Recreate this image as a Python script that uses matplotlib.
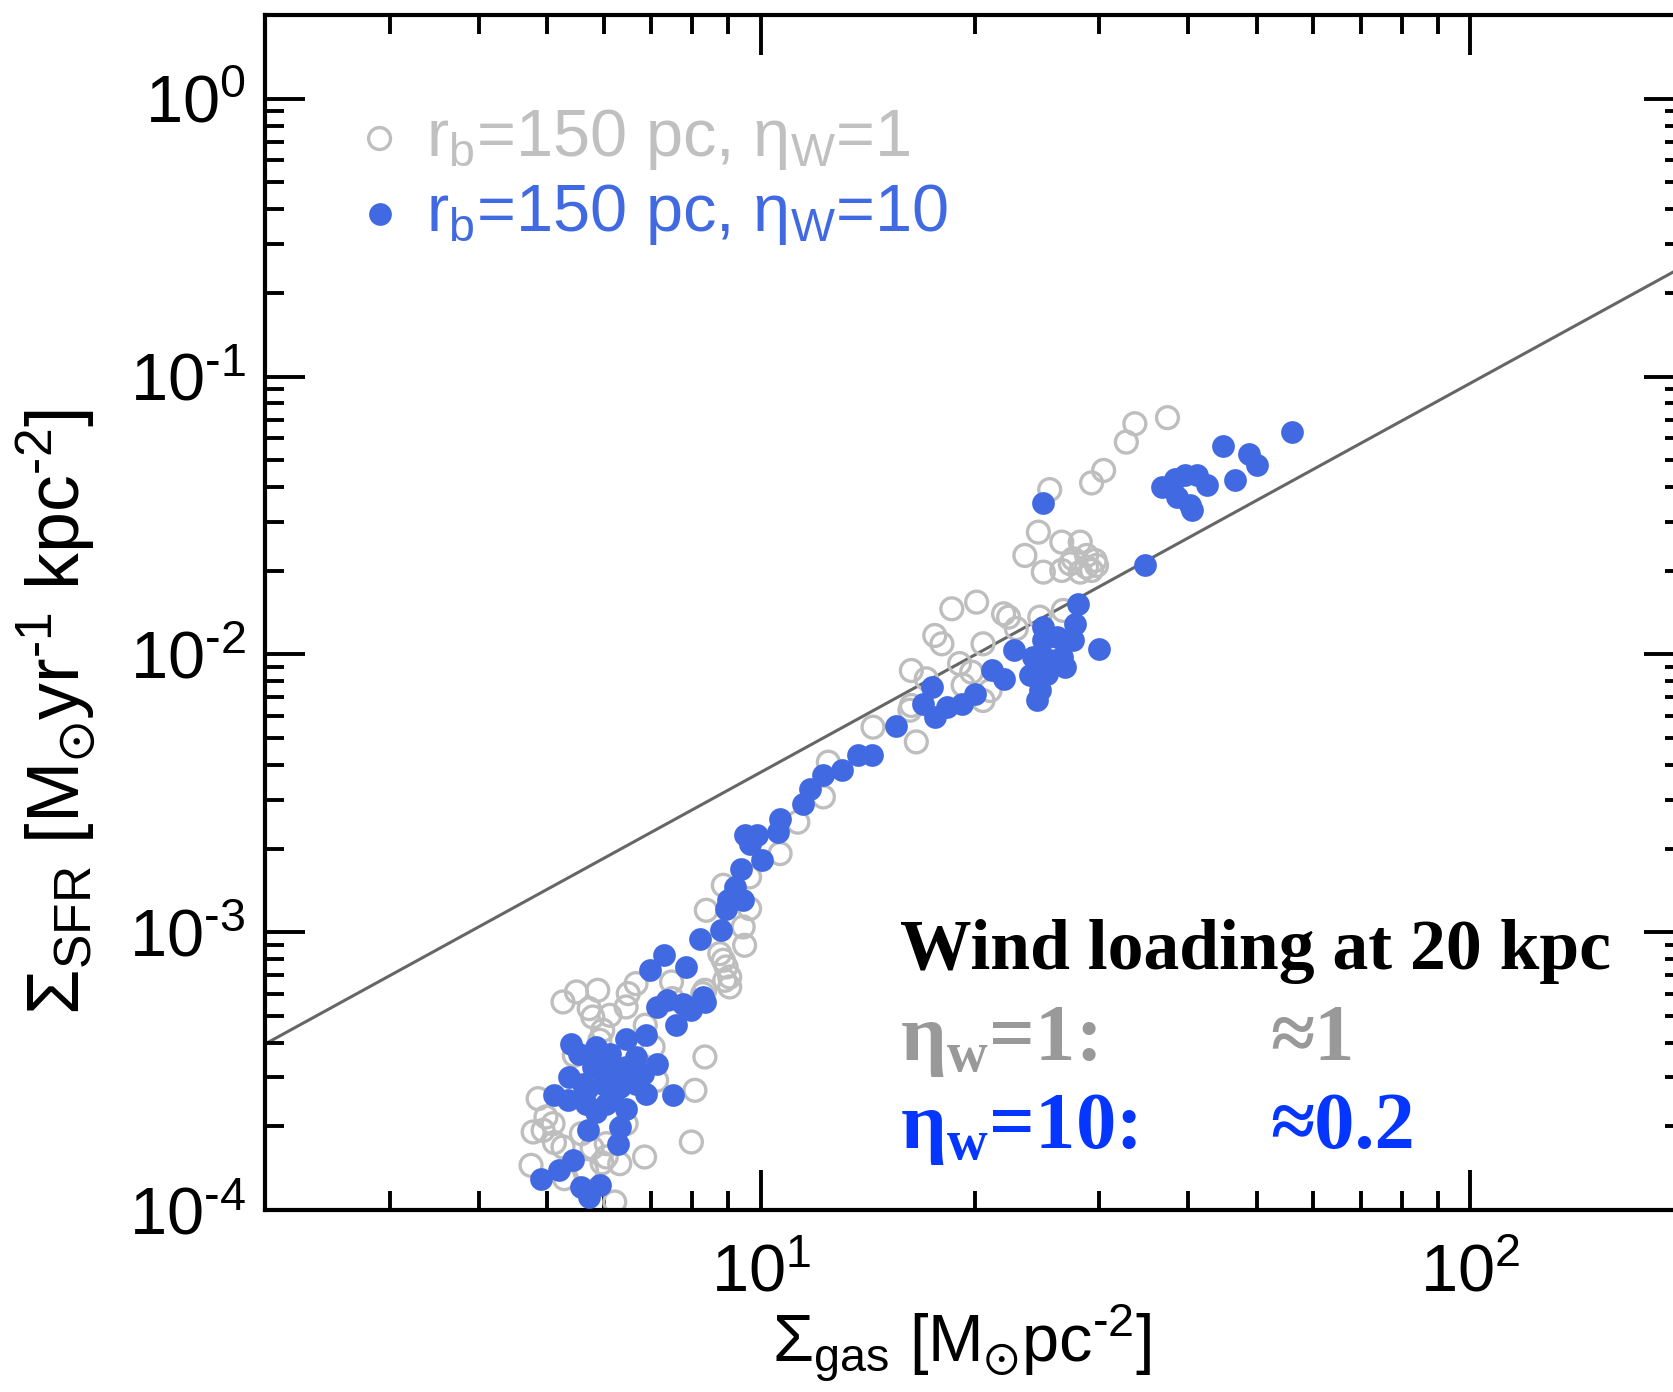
import matplotlib
matplotlib.use('Agg')
import matplotlib.pyplot as plt
import numpy as np
from matplotlib.ticker import NullFormatter, FuncFormatter

plt.rcParams['font.family'] = ['Liberation Sans', 'DejaVu Sans']
plt.rcParams['mathtext.fontset'] = 'custom'
plt.rcParams['mathtext.rm'] = 'Liberation Sans'
plt.rcParams['mathtext.it'] = 'Liberation Sans:italic'
plt.rcParams['mathtext.bf'] = 'Liberation Serif:bold'
plt.rcParams['mathtext.fallback'] = 'stixsans'
plt.rcParams['axes.unicode_minus'] = False

# log10 Sigma_gas [Msun/pc^2], log10 Sigma_SFR [Msun/yr/kpc^2]
# eta_w = 1 (grey open circles)
lg_gas_w1 = [1.573, 1.527, 1.515, 1.483, 1.466, 1.407, 1.391, 1.372, 1.424, 1.450,
             1.398, 1.424, 1.440, 1.459, 1.471, 1.450, 1.466, 1.436, 1.473, 1.459,
             1.269, 1.304, 1.342, 1.349, 1.393, 1.426, 1.245, 1.255, 1.313, 1.360,
             1.280, 1.297, 1.212, 1.233, 1.285, 1.323, 1.313, 1.212, 1.158, 1.219,
             1.210, 1.095, 1.088, 1.052, 1.027, 0.984, 0.947, 0.984, 0.923, 0.975,
             0.977, 0.942, 0.951, 0.956, 0.956, 0.921, 0.947, 0.949, 0.918, 0.874,
             0.824, 0.813, 0.770, 0.740, 0.721, 0.758, 0.763, 0.787, 0.810, 0.777,
             0.773, 0.848, 0.921, 0.737, 0.907, 0.853, 0.686, 0.697, 0.693, 0.707,
             0.721, 0.747, 0.782, 0.810, 0.782, 0.801, 0.836, 0.902, 0.676, 0.723,
             0.754, 0.794, 0.776, 0.709, 0.762, 0.837, 0.875, 0.679]
lg_sfr_w1 = [-1.148, -1.170, -1.236, -1.338, -1.383, -1.407, -1.560, -1.644, -1.596, -1.596,
             -1.704, -1.698, -1.656, -1.644, -1.662, -1.704, -1.698, -1.674, -1.680, -1.686,
             -1.836, -1.812, -1.854, -1.866, -1.866, -1.842, -1.932, -1.962, -1.962, -1.907,
             -2.033, -2.064, -2.058, -2.088, -2.111, -2.130, -2.166, -2.184, -2.262, -2.315,
             -2.201, -2.388, -2.513, -2.604, -2.717, -2.801, -2.831, -2.915, -2.921, -2.981,
             -3.047, -3.077, -3.125, -3.161, -3.197, -3.209, -3.101, -3.173, -3.221, -3.179,
             -3.185, -3.221, -3.209, -3.215, -3.251, -3.275, -3.305, -3.299, -3.269, -3.353,
             -3.389, -3.413, -3.449, -3.443, -3.569, -3.533, -3.599, -3.665, -3.713, -3.689,
             -3.773, -3.725, -3.761, -3.689, -3.809, -3.833, -3.809, -3.755, -3.839, -3.887,
             -3.857, -3.971, -3.830, -3.757, -3.776, -3.335, -3.239, -3.719]

# eta_w = 10 (blue filled circles)
lg_gas_w10 = [1.748, 1.651, 1.688, 1.699, 1.668, 1.565, 1.584, 1.614, 1.629, 1.598,
              1.586, 1.605, 1.607, 1.397, 1.542, 1.447, 1.442, 1.477, 1.440, 1.397,
              1.417, 1.398, 1.424, 1.429, 1.356, 1.384, 1.407, 1.379, 1.403, 1.325,
              1.342, 1.393, 1.389, 1.302, 1.283, 1.241, 1.229, 1.245, 1.262, 1.190,
              1.156, 1.137, 1.114, 1.088, 1.069, 1.059, 1.027, 1.024, 0.977, 0.994,
              0.984, 1.001, 0.972, 0.963, 0.975, 0.954, 0.951, 0.944, 0.914, 0.895,
              0.918, 0.864, 0.843, 0.853, 0.867, 0.890, 0.921, 0.902, 0.881, 0.838,
              0.810, 0.733, 0.744, 0.768, 0.787, 0.824, 0.853, 0.763, 0.787, 0.810,
              0.834, 0.730, 0.749, 0.777, 0.801, 0.824, 0.838, 0.876, 0.709, 0.728,
              0.754, 0.782, 0.810, 0.768, 0.756, 0.801, 0.799, 0.735, 0.716, 0.690,
              0.747, 0.773, 0.758, 0.777, 0.815, 0.792, 0.755]
lg_sfr_w10 = [-1.198, -1.249, -1.278, -1.320, -1.374, -1.398, -1.368, -1.356, -1.389, -1.356,
              -1.434, -1.464, -1.482, -1.456, -1.680, -1.817, -1.889, -1.980, -1.950, -1.902,
              -1.938, -1.950, -2.010, -2.046, -1.985, -2.010, -2.022, -2.076, -2.070, -2.058,
              -2.088, -2.130, -2.166, -2.141, -2.178, -2.118, -2.178, -2.226, -2.189, -2.258,
              -2.363, -2.363, -2.417, -2.435, -2.483, -2.537, -2.591, -2.639, -2.651, -2.651,
              -2.681, -2.741, -2.771, -2.837, -2.885, -2.885, -2.915, -2.993, -3.023, -3.125,
              -3.233, -3.083, -3.137, -3.269, -3.245, -3.257, -3.251, -3.281, -3.335, -3.371,
              -3.383, -3.401, -3.437, -3.413, -3.437, -3.449, -3.473, -3.485, -3.497, -3.485,
              -3.509, -3.521, -3.545, -3.545, -3.557, -3.545, -3.581, -3.587, -3.587, -3.605,
              -3.617, -3.617, -3.635, -3.647, -3.713, -3.701, -3.761, -3.821, -3.857, -3.887,
              -3.917, -3.911, -3.953, -3.469, -3.508, -3.584, -3.565]

# Kennicutt-Schmidt relation
ks_norm = 1.5e-4
ks_slope = 1.4
xlim = [2, 200]
ylim = [1e-4, 2]


def pow10(v, pos):
    e = int(round(np.log10(v)))
    if e < 0:
        return r'10$^{\text{-}%d}$' % (-e)
    return r'10$^{%d}$' % e


fig = plt.figure(figsize=(8.37, 6.96), dpi=200)
ax = fig.add_axes([0.1583, 0.1307, 0.8477, 0.8585])
ax.set_xscale('log')
ax.set_yscale('log')
ax.set_xlim(xlim)
ax.set_ylim(ylim)

gx = np.array(xlim, dtype=float)
ax.plot(gx, ks_norm * gx**ks_slope, color='#666666', lw=1.1, zorder=1)

ax.scatter(10**np.array(lg_gas_w1), 10**np.array(lg_sfr_w1), s=62, facecolors='none',
           edgecolors='#bebebe', linewidths=1.2, zorder=2,
           label=r'r$_\mathrm{b}$=150 pc, η$_\mathrm{W}$=1')
ax.scatter(10**np.array(lg_gas_w10), 10**np.array(lg_sfr_w10), s=67, color='royalblue',
           linewidths=0, zorder=3,
           label=r'r$_\mathrm{b}$=150 pc, η$_\mathrm{W}$=10')

leg = ax.legend(loc='upper left', bbox_to_anchor=(0.069, 0.923), frameon=False,
                fontsize=24, handlelength=0.5, handletextpad=0.45, labelspacing=0.15,
                borderpad=0, borderaxespad=0, scatterpoints=1,
                labelcolor=['#c0c0c0', 'royalblue'])

# annotation
ax.text(0.4475, 0.2017, 'Wind loading at 20 kpc', transform=ax.transAxes, fontsize=25.8,
        family='Liberation Serif', weight='bold', color='black', va='baseline')
ax.text(0.4475, 0.1255, r'η$\mathbf{_w}$=1:', transform=ax.transAxes, fontsize=29,
        family='Liberation Serif', weight='bold', color='#999999', va='baseline')
ax.text(0.7082, 0.1255, '≈1', transform=ax.transAxes, fontsize=29,
        family='Liberation Serif', weight='bold', color='#999999', va='baseline')
ax.text(0.4475, 0.0519, r'η$\mathbf{_w}$=10:', transform=ax.transAxes, fontsize=29,
        family='Liberation Serif', weight='bold', color='#0536ff', va='baseline')
ax.text(0.7082, 0.0519, '≈0.2', transform=ax.transAxes, fontsize=29,
        family='Liberation Serif', weight='bold', color='#0536ff', va='baseline')

for sp in ax.spines.values():
    sp.set_linewidth(1.5)
ax.tick_params(which='both', direction='in', top=True, right=True, width=1.4, labelsize=24)
ax.tick_params(which='major', length=14.5, pad=7)
ax.tick_params(which='minor', length=6.8)
ax.tick_params(axis='x', which='major', pad=12)
ax.xaxis.set_major_formatter(FuncFormatter(pow10))
ax.yaxis.set_major_formatter(FuncFormatter(pow10))
ax.xaxis.set_minor_formatter(NullFormatter())
ax.yaxis.set_minor_formatter(NullFormatter())

ax.set_xlabel(r'$\Sigma_\mathrm{gas}$ [M$_{\odot}$pc$^{\text{-}2}$]', fontsize=24)
ax.set_ylabel(r'$\Sigma_\mathrm{SFR}$ [M$_{\odot}$yr$^{\text{-}1}$ kpc$^{\text{-}2}$]', fontsize=26.5)
ax.xaxis.set_label_coords(0.491, -0.078)
ax.yaxis.set_label_coords(-0.118, 0.4167)

fig.savefig('out.png', dpi=200)
